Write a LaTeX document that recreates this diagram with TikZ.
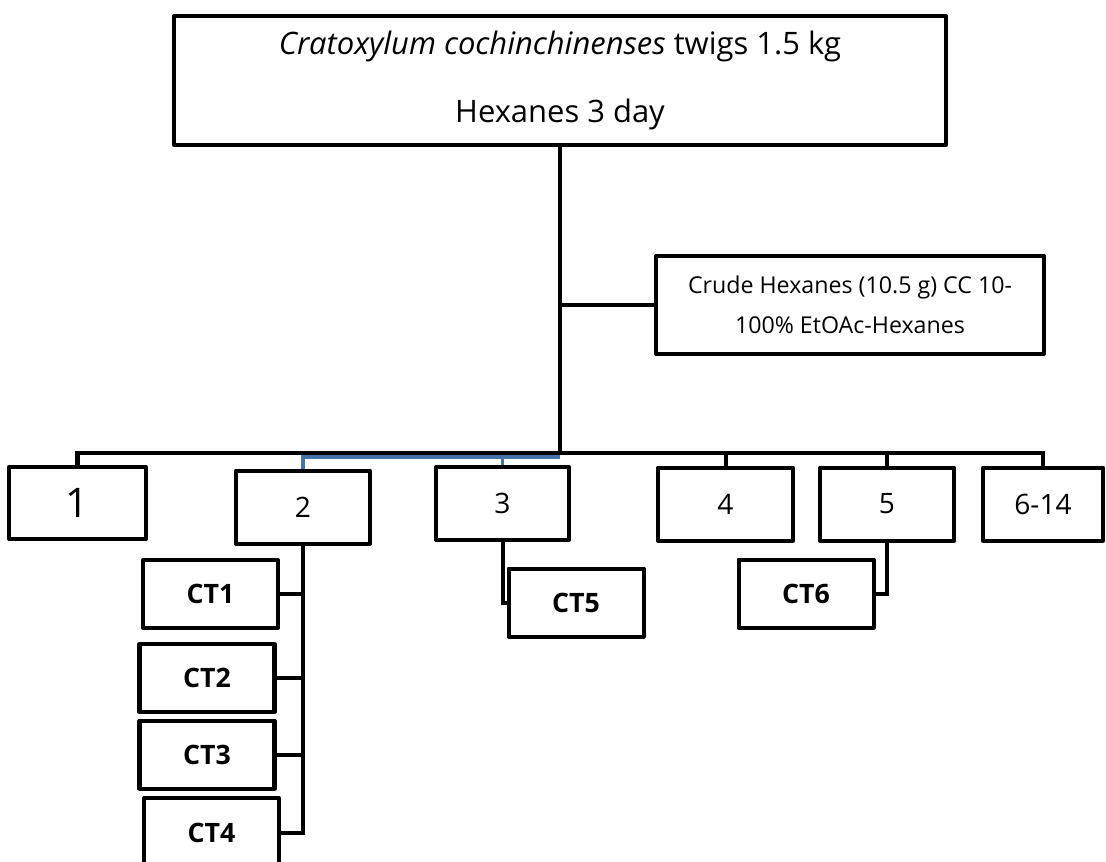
\documentclass[tikz,border=0pt]{standalone}
\usepackage{fontspec}
\setmainfont{Open Sans}
\definecolor{linkblue}{RGB}{70,114,170}
\begin{document}
\begin{tikzpicture}[x=0.025cm,y=-0.025cm,line width=2.85pt,
    box/.style 2 args={draw,rectangle,line join=round,inner sep=0pt,align=center,
        minimum width=#1*0.025cm,minimum height=#2*0.025cm},
    ctbox/.style={box={135}{68},font=\bfseries\fontsize{19}{21}\selectfont}]
    \path[use as bounding box,clip] (0,0) rectangle (1106,862);
    % extraction and crude extract
    \node[box={772}{129},font=\fontsize{22}{49}\selectfont] (top) at (560,80.5)
        {\textit{Cratoxylum cochinchinenses} twigs 1.5 kg\\Hexanes 3 day};
    \node[box={388}{98},font=\fontsize{16.5}{28.5}\selectfont] (crude) at (850,305)
        {Crude Hexanes (10.5 g) CC 10-\\100\% EtOAc-Hexanes};
    % fractions
    \node[box={137}{72},font=\fontsize{29}{30}\selectfont] (b1) at (77.5,503) {1};
    \foreach \n/\x/\y/\w/\lab in {2/303/507/134/2,3/502.5/503.5/133/3,4/725.5/504/135/4,
        5/887/504/134/5,6/1043/504/120/6-14}
        \node[box={\w}{73},font=\fontsize{20}{24}\selectfont] (b\n) at (\x,\y) {\lab};
    % compounds
    \foreach \n/\x/\y in {1/210.5/594,2/207/678,3/207/754.5}
        \node[ctbox] (ct\n) at (\x,\y) {CT\n};
    \node[ctbox,minimum height=70*0.025cm] (ct4) at (211.5,833) {CT4};
    \node[ctbox] (ct5) at (576,602.5) {CT5};
    \node[ctbox] (ct6) at (806,593.5) {CT6};

    \coordinate (bus) at (560,453);
    \coordinate (bluebus) at (560,457);
    \draw[linkblue,line width=2.3pt] (b2.north) |- (bluebus);
    \draw[linkblue,line width=2.3pt] (b3.north) -- (b3.north |- bluebus);
    \draw (top.south) -- (bus |- top.south) -- (bus); % trunk
    \draw (crude.west) -- (crude.west -| top.south);
    \draw (b1.north) |- (b6.north |- bus) -- (b6.north);
    \foreach \n in {4,5} {\draw (b\n.north) -- (b\n.north |- bus);}
    % columns below
    \draw (b2.south) -- (b2.south |- ct4.east) -- (ct4.east);
    \foreach \n in {1,2,3} {\draw (ct\n.east) -- (ct\n.east -| b2.south);}
    \draw (b3.south) |- (ct5.west);
    \draw (b5.south) |- (ct6.east);
\end{tikzpicture}
\end{document}
